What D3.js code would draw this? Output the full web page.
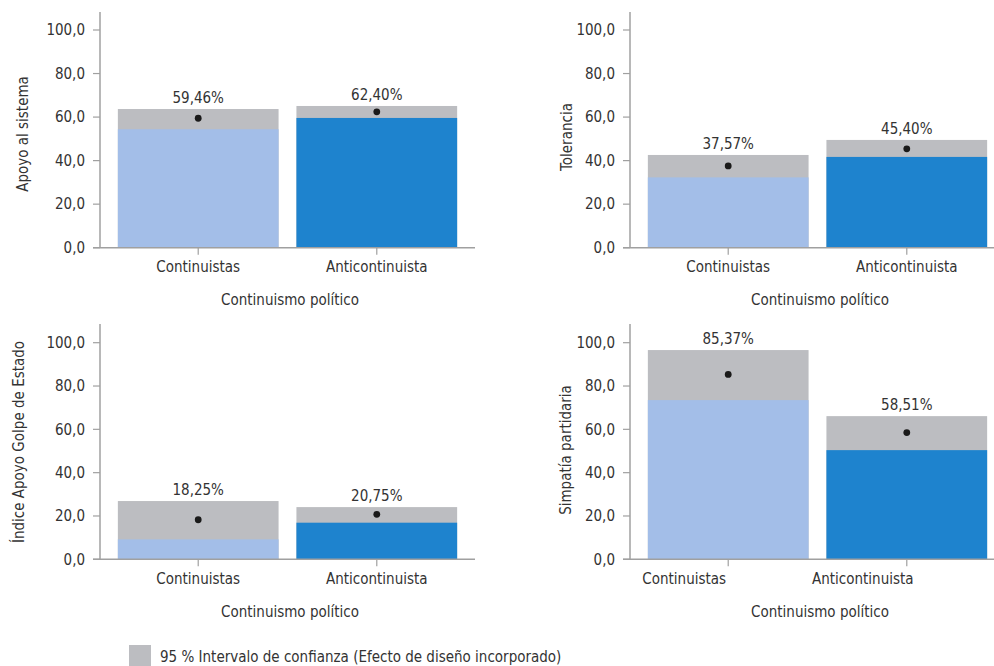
<!DOCTYPE html>
<html>
<head>
<meta charset="utf-8">
<script src="https://cdn.jsdelivr.net/npm/d3@7"></script>
<style>
  body { margin: 0; background: #fff; }
  svg { display: block; }
  text { font-family: "DejaVu Sans Condensed", "Liberation Sans Narrow", sans-serif; fill: #333; font-size: 15px; }
</style>
</head>
<body>
<svg id="chart" width="994" height="666"></svg>
<script>
// groups on the x axis
var groups = ["Continuistas", "Anticontinuista"];

// one entry per panel: mean, lower and upper CI bound for each group
var titles = ["Apoyo al sistema", "Tolerancia", "Índice Apoyo Golpe de Estado", "Simpatía partidaria"];
var means  = [[59.46, 62.40], [37.57, 45.40], [18.25, 20.75], [85.37, 58.51]];
var lower  = [[54.4, 59.6],   [32.3, 41.7],   [9.2, 16.9],    [73.5, 50.4]];
var upper  = [[63.7, 65.1],   [42.6, 49.5],   [26.9, 24.1],   [96.6, 66.1]];
var yTicks = [0, 20, 40, 60, 80, 100];
var xTitle = "Continuismo político";
var legendText = "95 % Intervalo de confianza (Efecto de diseño incorporado)";

var colLight = "#a3bee8", colDark = "#1e83ce", colCI = "#bcbdc1", axisCol = "#a0a0a0";

var svg = d3.select("#chart");
var fmt = function(v) { return d3.format(".1f")(v).replace(".", ","); };
var fmtPct = function(v) { return d3.format(".2f")(v).replace(".", ",") + "%"; };

// panel frames (left edge of plot, y of 0 and 100, title offset, tick label shift)
var panels = [
  { x0: 100, y0: 247.7, y100: 30,    top: 12,  yt: 77, ty: 134, dx: 0 },
  { x0: 630, y0: 247.7, y100: 30,    top: 12,  yt: 63, ty: 137, dx: 0 },
  { x0: 100, y0: 559.3, y100: 342.7, top: 324, yt: 81, ty: 442, dx: 0 },
  { x0: 630, y0: 559.3, y100: 342.7, top: 324, yt: 64, ty: 450, dx: -44 }
];

panels.forEach(function(p, i) {
  var g = svg.append("g");

  var x = d3.scaleBand().domain(groups).range([p.x0, p.x0 + 375])
    .paddingInner(0.1).paddingOuter(0.1);
  var y = d3.scaleLinear().domain([0, 100]).range([p.y0, p.y100]);

  // y axis
  g.append("line").attr("x1", p.x0).attr("x2", p.x0)
    .attr("y1", p.top).attr("y2", p.y0)
    .attr("stroke", axisCol).attr("stroke-width", 1.5);
  var yt = g.selectAll(".ytick").data(yTicks).enter().append("g")
    .attr("transform", function(d) { return "translate(0," + y(d) + ")"; });
  yt.append("line").attr("x1", p.x0 - 7).attr("x2", p.x0)
    .attr("stroke", axisCol).attr("stroke-width", 1.2);
  yt.append("text").attr("x", p.x0 - 15).attr("dy", "0.35em")
    .attr("text-anchor", "end").text(fmt);

  var rows = groups.map(function(k, j) {
    return { key: k, m: means[i][j], lo: lower[i][j], hi: upper[i][j], c: j == 0 ? colLight : colDark };
  });

  // CI upper part (gray) then lower bound bar (blue)
  g.selectAll(".ci").data(rows).enter().append("rect")
    .attr("x", function(d) { return x(d.key); })
    .attr("width", x.bandwidth())
    .attr("y", function(d) { return y(d.hi); })
    .attr("height", function(d) { return y(0) - y(d.hi); })
    .attr("fill", colCI);
  g.selectAll(".bar").data(rows).enter().append("rect")
    .attr("x", function(d) { return x(d.key); })
    .attr("width", x.bandwidth())
    .attr("y", function(d) { return y(d.lo); })
    .attr("height", function(d) { return y(0) - y(d.lo); })
    .attr("fill", function(d) { return d.c; });

  // mean points
  g.selectAll(".dot").data(rows).enter().append("circle")
    .attr("cx", function(d) { return x(d.key) + x.bandwidth() / 2; })
    .attr("cy", function(d) { return y(d.m); })
    .attr("r", 3.4).attr("fill", "#1a1a1a");

  // value labels
  g.selectAll(".lab").data(rows).enter().append("text")
    .attr("x", function(d) { return x(d.key) + x.bandwidth() / 2; })
    .attr("y", function(d) { return y(d.hi) - 6; })
    .attr("text-anchor", "middle")
    .text(function(d) { return fmtPct(d.m); });

  // x axis
  g.append("line").attr("x1", p.x0 - 7).attr("x2", p.x0 + 375)
    .attr("y1", p.y0).attr("y2", p.y0)
    .attr("stroke", axisCol).attr("stroke-width", 1.5);
  var xt = g.selectAll(".xtick").data(groups).enter().append("g")
    .attr("transform", function(d) { return "translate(" + (x(d) + x.bandwidth() / 2) + "," + p.y0 + ")"; });
  xt.append("line").attr("y1", 0).attr("y2", 7).attr("stroke", axisCol).attr("stroke-width", 1.2);
  xt.append("text").attr("x", p.dx).attr("y", 19).attr("dy", "0.35em")
    .attr("text-anchor", "middle").text(function(d) { return d; });

  // axis titles
  g.append("text").attr("x", p.x0 + 190).attr("y", p.y0 + 52).attr("dy", "0.35em")
    .attr("text-anchor", "middle").text(xTitle);
  g.append("text")
    .attr("transform", "translate(" + (p.x0 - p.yt) + "," + p.ty + ") rotate(-90)")
    .attr("dy", "0.35em").attr("text-anchor", "middle")
    .text(titles[i]);
});

// legend
var lg = svg.append("g");
lg.append("rect").attr("x", 129).attr("y", 645).attr("width", 22).attr("height", 22).attr("fill", colCI);
lg.append("text").attr("x", 160).attr("y", 657).attr("dy", "0.35em")
  .text(legendText);
</script>
</body>
</html>
